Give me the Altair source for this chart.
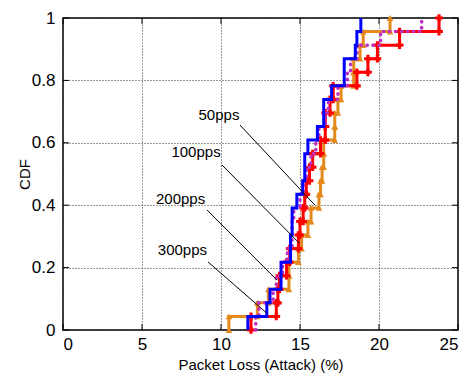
import altair as alt
import pandas as pd

# ---- data (sorted packet-loss samples per rate, %) ----
series_names = ["50pps", "100pps", "200pps", "300pps"]
loss_50pps = [10.5, 12.3, 13.0, 14.3, 14.3, 14.9, 15.1, 15.5, 15.7, 16.2, 16.3, 16.4,
              16.5, 16.5, 17.2, 17.2, 17.4, 17.6, 18.4, 18.4, 18.8, 19.0, 20.7]
loss_100pps = [11.9, 13.5, 13.6, 13.7, 14.15, 14.35, 14.9, 15.0, 15.2, 15.3, 15.4, 15.6,
               15.8, 16.3, 16.6, 16.6, 16.9, 17.1, 18.6, 19.3, 19.9, 21.3, 23.8]
loss_200pps = [12.2, 12.4, 13.3, 13.5, 13.9, 14.2, 14.5, 14.5, 14.6, 15.0, 15.2, 15.4,
               15.7, 16.0, 16.2, 16.6, 16.8, 17.4, 18.0, 18.2, 18.6, 20.1, 22.7]
loss_300pps = [11.7, 12.9, 13.1, 13.8, 13.8, 14.4, 14.4, 14.5, 14.5, 14.8, 15.17, 15.3,
               15.3, 15.5, 16.1, 16.5, 16.5, 17.0, 17.8, 17.8, 18.5, 18.6, 18.85]
samples = {"50pps": loss_50pps, "100pps": loss_100pps,
           "200pps": loss_200pps, "300pps": loss_300pps}

series_colors = {"50pps": "#e5891c", "100pps": "#ff0000",
                 "200pps": "#c030c0", "300pps": "#0000ff"}

x_ticks = [0, 5, 10, 15, 20, 25]
y_ticks = [0, 0.2, 0.4, 0.6, 0.8, 1.0]

# annotation labels and leader lines (data coordinates)
label_text = ["50pps", "100pps", "200pps", "300pps"]
label_x = [9.87, 8.42, 7.44, 7.56]
label_y = [0.689, 0.571, 0.42, 0.256]
arrow_x1 = [11.2, 10.06, 9.11, 9.18]
arrow_y1 = [0.657, 0.529, 0.385, 0.218]
arrow_x2 = [15.95, 14.94, 13.54, 12.9]
arrow_y2 = [0.40, 0.279, 0.16, 0.054]

W, H = 395, 312
TICK = 6


def step_rows(name):
    vals = sorted(samples[name])
    n = len(vals)
    rows = [{"series": name, "x": vals[0], "y": 0.0, "k": 0}]
    for i, v in enumerate(vals, 1):
        rows.append({"series": name, "x": v, "y": i / n, "k": i})
    return pd.DataFrame(rows)


def corner_rows(name):
    vals = sorted(samples[name])
    n = len(vals)
    rows = []
    for i, v in enumerate(vals, 1):
        rows.append({"series": name, "x": v, "y": (i - 1) / n})
        rows.append({"series": name, "x": v, "y": i / n})
    return pd.DataFrame(rows)


xs = alt.Scale(domain=[0, 25], nice=False)
ys = alt.Scale(domain=[0, 1], nice=False)
xax = alt.Axis(values=x_ticks, title="Packet Loss (Attack) (%)", format="~g")
yax = alt.Axis(values=y_ticks, title="CDF", format="~g",
               titleX=-31, titleY=156, titleAlign="center", titleBaseline="bottom")


def step_line(name, dash=None, width=3):
    kw = dict(interpolate="step-after", color=series_colors[name], strokeWidth=width,
              clip=False)
    if dash:
        kw["strokeDash"] = dash
        kw["strokeCap"] = "round"
    return alt.Chart(step_rows(name)).mark_line(**kw).encode(
        x=alt.X("x:Q", scale=xs, axis=xax),
        y=alt.Y("y:Q", scale=ys, axis=yax),
        order="k:Q",
    )


def markers(name, shape, size):
    return alt.Chart(corner_rows(name)).mark_point(
        shape=shape, filled=True, size=size, color=series_colors[name], opacity=1,
        clip=False
    ).encode(x=alt.X("x:Q", scale=xs), y=alt.Y("y:Q", scale=ys))


# inward tick marks on all four sides (gnuplot style)
xt = pd.DataFrame({"v": x_ticks})
yt = pd.DataFrame({"v": y_ticks})
tick_style = dict(color="black", strokeWidth=1)
ticks_bottom = alt.Chart(xt).mark_rule(**tick_style).encode(
    x=alt.X("v:Q", scale=xs), y=alt.value(H), y2=alt.value(H - TICK))
ticks_top = alt.Chart(xt).mark_rule(**tick_style).encode(
    x=alt.X("v:Q", scale=xs), y=alt.value(0), y2=alt.value(TICK))
ticks_left = alt.Chart(yt).mark_rule(**tick_style).encode(
    y=alt.Y("v:Q", scale=ys), x=alt.value(0), x2=alt.value(TICK))
ticks_right = alt.Chart(yt).mark_rule(**tick_style).encode(
    y=alt.Y("v:Q", scale=ys), x=alt.value(W), x2=alt.value(W - TICK))

ann = pd.DataFrame({"text": label_text, "lx": label_x, "ly": label_y,
                    "x1": arrow_x1, "y1": arrow_y1, "x2": arrow_x2, "y2": arrow_y2})

leaders = alt.Chart(ann).mark_rule(color="black", strokeWidth=1).encode(
    x=alt.X("x1:Q", scale=xs), y=alt.Y("y1:Q", scale=ys),
    x2="x2:Q", y2="y2:Q")
labels = alt.Chart(ann).mark_text(font="Liberation Sans", fontSize=15, color="black",
                                  align="center", baseline="middle").encode(
    x=alt.X("lx:Q", scale=xs), y=alt.Y("ly:Q", scale=ys), text="text:N")

chart = alt.layer(
    ticks_bottom, ticks_top, ticks_left, ticks_right,
    step_line("50pps"),
    markers("50pps", "triangle-up", 45),
    step_line("100pps"),
    markers("100pps", "cross", 60),
    step_line("200pps", dash=[0.5, 5.5], width=3.5),
    step_line("300pps"),
    leaders,
    labels,
).properties(
    width=W, height=H,
    padding={"left": 63, "top": 18, "right": 9, "bottom": 50},
    autosize=alt.AutoSizeParams(type="none"),
    background="white",
).configure_view(
    stroke="black", strokeWidth=1.5
).configure_axis(
    labelFont="Liberation Sans", labelFontSize=17, labelColor="black",
    titleFont="Liberation Sans", titleFontSize=15, titleColor="black",
    titleFontWeight="normal",
    grid=True, gridColor="#333333", gridDash=[1, 2], gridWidth=1,
    ticks=False, domain=False, labelPadding=8,
).configure_axisX(titlePadding=5, labelPadding=6)

chart.save("out.html", embed_options={"renderer": "svg", "actions": False})
